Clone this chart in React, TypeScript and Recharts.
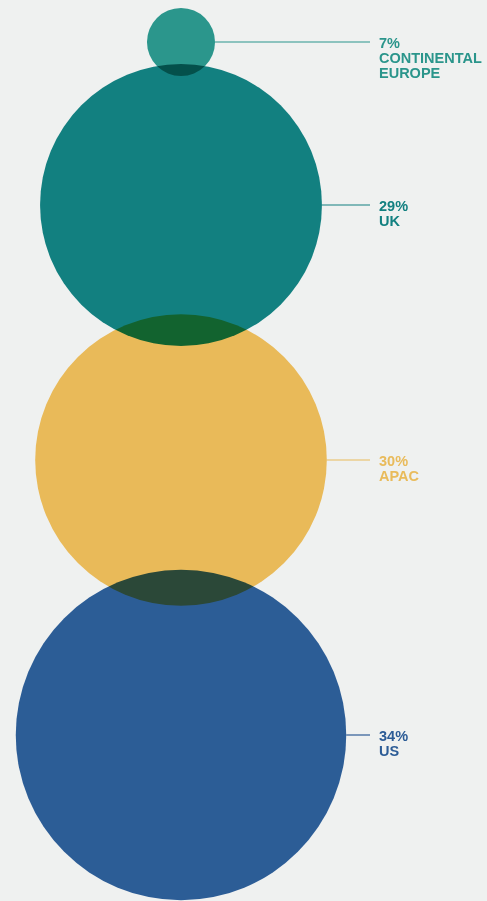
import React from 'react';
import { ScatterChart, Scatter, XAxis, YAxis } from 'recharts';

// Regional split, top to bottom
const regions = ['CONTINENTAL EUROPE', 'UK', 'APAC', 'US'];
const shares = [7, 29, 30, 34];
// vertical position of each bubble along the stack (chart units, 0 = top)
const stackPositions = [42, 205, 460, 735];
const column = [1, 1, 1, 1];

// fills are pre-divided by the background since the bubbles multiply
const fills = ['#2d9f95', '#138788', '#f9c55e', '#2f62a0'];
const textColors = ['#2a958b', '#128080', '#e9bb5b', '#2c5c96'];

const WIDTH = 487;
const HEIGHT = 901;
const BG = '#eff1f0';
const PX_PER_POINT = 4.86;
const LABEL_X = 379;
const FONT = '"Liberation Sans", Arial, sans-serif';

const data = regions.map((name, i) => ({
  name,
  share: shares[i],
  x: column[i],
  y: stackPositions[i],
  fill: fills[i],
  textColor: textColors[i],
}));

function Bubble(props: any) {
  const { cx, cy, payload } = props;
  const r = payload.share * PX_PER_POINT;
  const words = payload.name.split(' ');
  return (
    <g>
      <circle
        cx={cx}
        cy={cy}
        r={r}
        fill={payload.fill}
        style={{ mixBlendMode: 'multiply' }}
      />
      <line
        x1={cx + r}
        x2={LABEL_X - 9}
        y1={cy}
        y2={cy}
        stroke={payload.textColor}
        strokeWidth={1.2}
      />
      <text
        x={LABEL_X}
        y={cy + 5.5}
        fill={payload.textColor}
        fontFamily={FONT}
        fontWeight={700}
        fontSize={14.5}
      >
        <tspan x={LABEL_X}>{payload.share}%</tspan>
        {words.map((w: string) => (
          <tspan key={w} x={LABEL_X} dy={15}>
            {w}
          </tspan>
        ))}
      </text>
    </g>
  );
}

export default function App() {
  return (
    <div
      style={{
        position: 'absolute',
        top: 0,
        left: 0,
        width: WIDTH,
        height: HEIGHT,
        background: BG,
      }}
    >
      <ScatterChart
        width={WIDTH}
        height={HEIGHT}
        margin={{ top: 0, right: 125, bottom: 0, left: 0 }}
      >
        <XAxis type="number" dataKey="x" domain={[0, 2]} hide />
        <YAxis type="number" dataKey="y" domain={[0, HEIGHT]} reversed hide />
        <Scatter data={data} shape={<Bubble />} isAnimationActive={false} />
      </ScatterChart>
    </div>
  );
}
